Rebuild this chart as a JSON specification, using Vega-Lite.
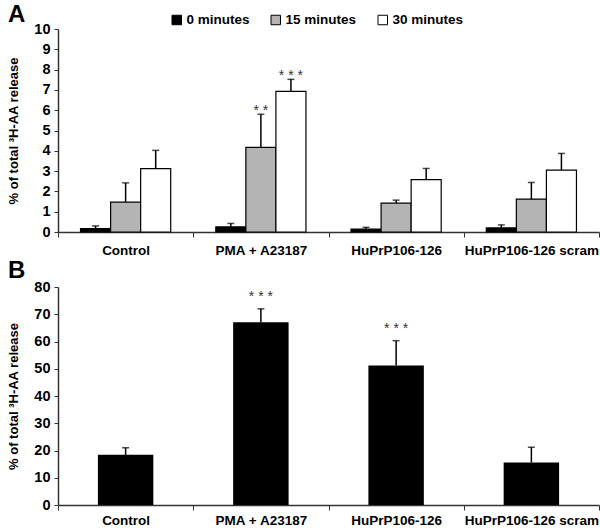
{
  "$schema": "https://vega.github.io/schema/vega-lite/v6.json",
  "padding": {"left": 7, "top": 3, "right": 0, "bottom": 0},
  "background": "white",
  "config": {
    "font": "Liberation Sans",
    "view": {"stroke": null},
    "axis": {"labelFont": "Liberation Sans", "labelFontWeight": "bold", "labelFontSize": 13.5, "labelColor": "black", "titleFont": "Liberation Sans", "titleFontWeight": "bold", "titleFontSize": 13, "titleColor": "black", "domainColor": "#333", "tickColor": "#333", "grid": false},
    "axisY": {"labelFontSize": 14.5, "labelPadding": 4},
    "legend": {"labelFont": "Liberation Sans", "labelFontWeight": "bold", "labelFontSize": 13.5, "labelColor": "black"}
  },
  "spacing": 2,
  "vconcat": [
    {
      "width": 541,
      "height": 203,
      "title": {"text": "A", "anchor": "start", "frame": "group", "fontSize": 24, "fontWeight": "bold", "font": "Liberation Sans", "dx": -50, "offset": -6},
      "data": {"values": [
        {"group": "Control", "time": "0 minutes", "value": 0.17, "upper": 0.3, "sig": ""},
        {"group": "Control", "time": "15 minutes", "value": 1.47, "upper": 2.42, "sig": ""},
        {"group": "Control", "time": "30 minutes", "value": 3.12, "upper": 4.02, "sig": ""},
        {"group": "PMA + A23187", "time": "0 minutes", "value": 0.25, "upper": 0.42, "sig": ""},
        {"group": "PMA + A23187", "time": "15 minutes", "value": 4.17, "upper": 5.8, "sig": "* *"},
        {"group": "PMA + A23187", "time": "30 minutes", "value": 6.93, "upper": 7.52, "sig": "* * *"},
        {"group": "HuPrP106-126", "time": "0 minutes", "value": 0.14, "upper": 0.23, "sig": ""},
        {"group": "HuPrP106-126", "time": "15 minutes", "value": 1.42, "upper": 1.57, "sig": ""},
        {"group": "HuPrP106-126", "time": "30 minutes", "value": 2.58, "upper": 3.13, "sig": ""},
        {"group": "HuPrP106-126 scram", "time": "0 minutes", "value": 0.2, "upper": 0.35, "sig": ""},
        {"group": "HuPrP106-126 scram", "time": "15 minutes", "value": 1.62, "upper": 2.44, "sig": ""},
        {"group": "HuPrP106-126 scram", "time": "30 minutes", "value": 3.05, "upper": 3.87, "sig": ""}
      ]},
      "encoding": {
        "x": {"field": "group", "type": "nominal", "sort": null, "scale": {"paddingInner": 0, "paddingOuter": 0},
              "axis": {"title": null, "labelAngle": 0, "tickBand": "extent", "tickSize": 5, "labelPadding": 6, "domainWidth": 1.5}},
        "xOffset": {"field": "time", "type": "nominal", "sort": ["0 minutes", "15 minutes", "30 minutes"], "scale": {"paddingInner": 0, "paddingOuter": 0.75}},
        "y": {"field": "value", "type": "quantitative", "scale": {"domain": [0, 10]},
              "axis": {"title": "% of total ³H-AA release", "values": [0,1,2,3,4,5,6,7,8,9,10], "tickSize": 4, "titlePadding": 13, "domainWidth": 1.5}}
      },
      "layer": [
        {"mark": {"type": "rule", "stroke": "black", "strokeWidth": 1.5}, "encoding": {"y2": {"field": "upper"}}},
        {"mark": {"type": "tick", "color": "black", "size": 7, "thickness": 1.5}, "encoding": {"y": {"field": "upper", "type": "quantitative"}}},
        {"mark": {"type": "bar", "stroke": "black", "strokeWidth": 1.2},
         "encoding": {"color": {"field": "time", "type": "nominal", "sort": ["0 minutes", "15 minutes", "30 minutes"],
            "scale": {"domain": ["0 minutes", "15 minutes", "30 minutes"], "range": ["black", "#b4b4b4", "white"]},
            "legend": {"title": null, "orient": "none", "direction": "horizontal", "legendX": 112, "legendY": -16, "symbolType": "square", "symbolSize": 90, "symbolStrokeColor": "black", "symbolStrokeWidth": 1, "columnPadding": 19, "labelOffset": 3}}}},
        {"mark": {"type": "text", "baseline": "alphabetic", "dy": 1, "fontSize": 14, "color": "#333", "font": "Liberation Sans"},
         "encoding": {"y": {"field": "upper", "type": "quantitative"}, "text": {"field": "sig"}}}
      ]
    },
    {
      "width": 541,
      "height": 218,
      "title": {"text": "B", "anchor": "start", "frame": "group", "fontSize": 24, "fontWeight": "bold", "font": "Liberation Sans", "dx": -50, "offset": -4},
      "data": {"values": [
        {"group": "Control", "value": 18.4, "upper": 21.0, "sig": ""},
        {"group": "PMA + A23187", "value": 67.1, "upper": 72.0, "sig": "* * *"},
        {"group": "HuPrP106-126", "value": 51.2, "upper": 60.3, "sig": "* * *"},
        {"group": "HuPrP106-126 scram", "value": 15.6, "upper": 21.2, "sig": ""}
      ]},
      "encoding": {
        "x": {"field": "group", "type": "nominal", "sort": null, "scale": {"paddingInner": 0, "paddingOuter": 0},
              "axis": {"title": null, "labelAngle": 0, "tickBand": "extent", "tickSize": 5, "labelPadding": 3, "domainWidth": 1.5}},
        "y": {"field": "value", "type": "quantitative", "scale": {"domain": [0, 80]},
              "axis": {"title": "% of total ³H-AA release", "values": [0,10,20,30,40,50,60,70,80], "tickSize": 4, "titlePadding": 13, "domainWidth": 1.5}}
      },
      "layer": [
        {"mark": {"type": "rule", "stroke": "black", "strokeWidth": 1.5}, "encoding": {"y2": {"field": "upper"}}},
        {"mark": {"type": "tick", "color": "black", "size": 7, "thickness": 1.5}, "encoding": {"y": {"field": "upper", "type": "quantitative"}}},
        {"mark": {"type": "bar", "color": "black", "width": {"band": 0.41}}},
        {"mark": {"type": "text", "baseline": "alphabetic", "dy": -8, "fontSize": 14, "color": "#333", "font": "Liberation Sans"},
         "encoding": {"y": {"field": "upper", "type": "quantitative"}, "text": {"field": "sig"}}}
      ]
    }
  ]
}
